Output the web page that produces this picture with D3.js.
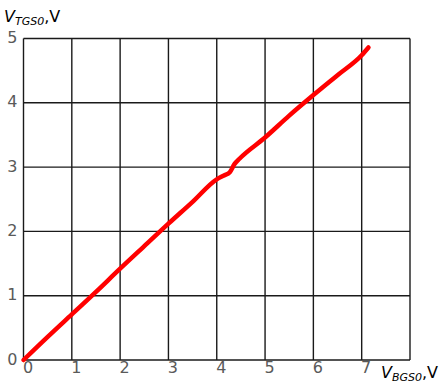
<!DOCTYPE html>
<html>
<head>
<meta charset="utf-8">
<script src="https://cdn.jsdelivr.net/npm/d3@7"></script>
<style>
  html, body { margin: 0; padding: 0; background: #fff; }
  svg { display: block; }
</style>
</head>
<body>
<svg id="chart" width="441" height="383"></svg>
<script>
// Top-gate threshold voltage vs. back-gate voltage
const vBG = [0, 0.5, 1, 1.5, 2, 2.5, 3, 3.5, 4, 4.15, 4.27, 4.37, 4.47, 5, 5.5, 6, 6.5, 7, 7.14];
const vTG = [0, 0.36, 0.71, 1.06, 1.42, 1.77, 2.12, 2.46, 2.81, 2.87, 2.92, 3.05, 3.13, 3.46, 3.8, 4.12, 4.43, 4.74, 4.86];
const xTicks = [0, 1, 2, 3, 4, 5, 6, 7, 8];
const yTicks = [0, 1, 2, 3, 4, 5];
const xTickLabels = ["0", "1", "2", "3", "4", "5", "6", "7", ""];
const yTickLabels = ["0", "1", "2", "3", "4", "5"];

const svg = d3.select("#chart");
const x = d3.scaleLinear().domain([0, 8]).range([23.5, 410]);
const y = d3.scaleLinear().domain([0, 5]).range([360, 38.5]);

const font = "'DejaVu Sans', Verdana, sans-serif";

// grid
const grid = svg.append("g").attr("stroke", "#1a1a1a").attr("stroke-width", 1.4);
grid.selectAll("line.v").data(xTicks).join("line")
  .attr("x1", d => x(d)).attr("x2", d => x(d))
  .attr("y1", y(0)).attr("y2", y(5));
grid.selectAll("line.h").data(yTicks).join("line")
  .attr("x1", x(0)).attr("x2", x(8))
  .attr("y1", d => y(d)).attr("y2", d => y(d));

// axes (labels only, grid carries the lines)
const xAxis = d3.axisBottom(x).tickValues(xTicks).tickSize(0).tickPadding(2)
  .tickFormat((d, i) => xTickLabels[i]);
const gx = svg.append("g").attr("transform", `translate(0,${y(0)})`).call(xAxis);
gx.select(".domain").remove();
gx.selectAll("text").attr("font-family", font).attr("font-size", 16)
  .attr("fill", "#5a5a5a").attr("dx", 4);

const yAxis = d3.axisLeft(y).tickValues(yTicks).tickSize(0).tickPadding(6)
  .tickFormat((d, i) => yTickLabels[i]);
const gy = svg.append("g").attr("transform", `translate(${x(0)},0)`).call(yAxis);
gy.select(".domain").remove();
gy.selectAll("text").attr("font-family", font).attr("font-size", 16)
  .attr("fill", "#5a5a5a").attr("dy", "0.25em");

// data curve
const line = d3.line().x((d, i) => x(vBG[i])).y((d, i) => y(vTG[i])).curve(d3.curveMonotoneX);
svg.append("path").datum(vBG)
  .attr("d", line)
  .attr("fill", "none").attr("stroke", "#ff0000")
  .attr("stroke-width", 4.5).attr("stroke-linecap", "round").attr("stroke-linejoin", "round");

// axis titles
function axisTitle(tx, ty, sub) {
  const t = svg.append("text").attr("x", tx).attr("y", ty)
    .attr("font-family", font).attr("fill", "#000");
  t.append("tspan").attr("font-size", 16).attr("font-style", "italic").text("V");
  t.append("tspan").attr("font-size", 11).attr("font-style", "italic").attr("dy", 3).text(sub);
  t.append("tspan").attr("font-size", 16).attr("dy", -3).text(",V");
}
axisTitle(4, 22, "TGS0");
axisTitle(381, 378, "BGS0");
</script>
</body>
</html>
